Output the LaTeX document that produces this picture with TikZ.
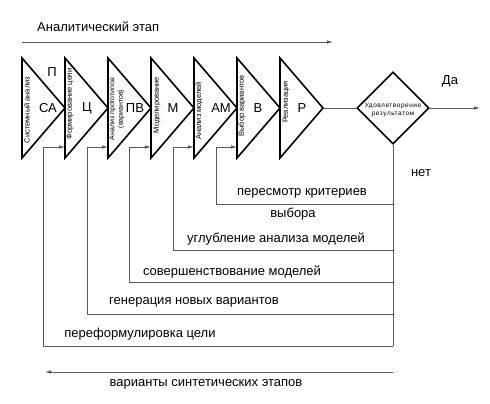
\documentclass[tikz,border=0pt]{standalone}
\usepackage{fontspec}
\setmainfont{Liberation Sans}
\usetikzlibrary{arrows.meta,shapes.geometric}
\begin{document}
\begin{tikzpicture}[x=1pt,y=-1pt,
  tri/.style={line width=1.6pt,line join=miter},
  conn/.style={draw=black!65,line width=0.8pt},
  arr/.style={conn,-{Latex[length=6pt,width=3.5pt]}},
  lbl/.style={font=\fontsize{13}{15}\selectfont,inner sep=0pt,text=black},
  sm/.style={font=\fontsize{7.5}{8.5}\selectfont,inner sep=0pt,rotate=90,align=center},
]
\useasboundingbox[fill=white] (0,0) rectangle (490,404);
% triangles
\foreach \i/\nm in {0/sa,1/c,2/pv,3/m,4/am,5/v,6/r}{
  \pgfmathsetmacro\L{22+43*\i}
  \coordinate (\nm-tl) at (\L,58);
  \coordinate (\nm-ap) at (\L+43,108);
  \coordinate (\nm-bl) at (\L,158);
  \coordinate (\nm-in) at (\L,147);
  \draw[tri] (\nm-tl) -- (\nm-ap) -- (\nm-bl) -- cycle;
}
% big labels
\node[lbl] (lsa) at (48,108) {СА};
\node[lbl] (lp)  at (52,72)  {П};
\node[lbl] (lc)  at (87,108) {Ц};
\node[lbl] (lpv) at (135,108) {ПВ};
\node[lbl] (lm)  at (173,108) {М};
\node[lbl] (lam) at (221,108) {АМ};
\node[lbl] (lv)  at (258,108) {В};
\node[lbl] (lr)  at (302,108) {Р};
% small rotated labels
\node[sm] (ssa) at (27,110) {Системный анализ};
\node[sm] (sc)  at (70,104) {Формирование цели};
\node[sm,font=\fontsize{7}{8.5}\selectfont] (spv) at (117,109) {Анализ прототипов\\(вариантов)};
\node[sm] (sm4) at (157,105) {Моделирование};
\node[sm] (sam) at (199,111) {Анализ моделей};
\node[sm] (sv)  at (242,106) {Выбор вариантов};
\node[sm] (sr)  at (286,102) {Реализация};
% decision
\node[diamond,draw,line width=1.6pt,minimum width=72pt,minimum height=72pt,inner sep=0pt] (dia) at (393,108) {};
\node[font=\fontsize{6.5}{8}\selectfont\addfontfeature{LetterSpace=8},align=center,inner sep=0pt] (diatxt) at (393,110) {Удовлетворение\\результатом};
\draw[conn] (r-ap) -- (dia.west);
\coordinate (yes) at (480,108);
\draw[arr] (dia.east) -- (yes);
\node[lbl] (lyes) at (450,81) {Да};
\node[lbl] (lno) at (421,173) {нет};
% feedback loops
\coordinate (j1) at (393,204);
\coordinate (j2) at (393,250);
\coordinate (j3) at (393,282);
\coordinate (j4) at (393,314);
\coordinate (j5) at (393,346);
\draw[conn] (dia.south) -- (j5);
\draw[arr] (j1) -| ([xshift=-21pt]v-in) -- (v-in);
\draw[arr] (j2) -| ([xshift=-21pt]am-in) -- (am-in);
\draw[arr] (j3) -| ([xshift=-22pt]m-in) -- (m-in);
\draw[arr] (j4) -| ([xshift=-21pt]pv-in) -- (pv-in);
\draw[arr] (j5) -| ([xshift=-22pt]c-in) -- (c-in);
\node[lbl] (t1) at (302,193) {пересмотр критериев};
\node[lbl] (t1b) at (293,214) {выбора};
\node[lbl] (t2) at (276,239) {углубление анализа моделей};
\node[lbl] (t3) at (232,272) {совершенствование моделей};
\node[lbl] (t4) at (194,302) {генерация новых вариантов};
\node[lbl] (t5) at (140,334) {переформулировка цели};
% top and bottom arrows
\coordinate (ta1) at (22,42);
\coordinate (ta2) at (333,42);
\draw[arr] (ta1) -- (ta2);
\node[lbl,anchor=west] (ttop) at (37,27) {Аналитический этап};
\coordinate (ba1) at (393,372);
\coordinate (ba2) at (45,372);
\draw[arr] (ba1) -- (ba2);
\node[lbl] (tbot) at (206,384) {варианты синтетических этапов};
\end{tikzpicture}
\end{document}
